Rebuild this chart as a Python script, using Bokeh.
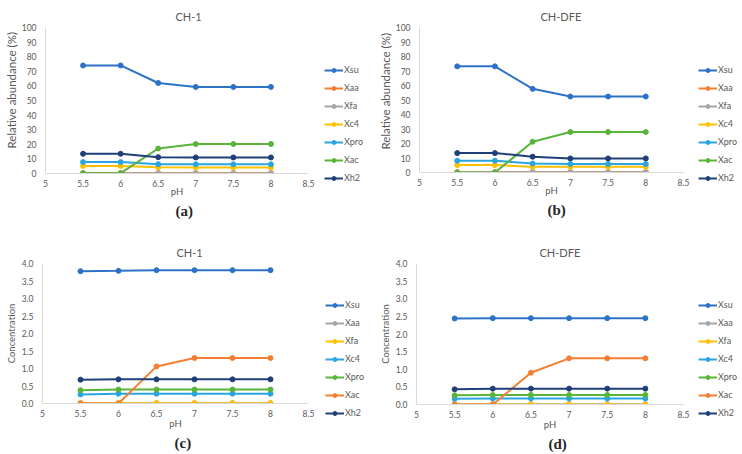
import numpy as np
from bokeh.plotting import figure
from bokeh.layouts import row, column
from bokeh.models import Range1d, FixedTicker, NumeralTickFormatter, Legend, LegendItem, Title
from bokeh.embed import file_html
from bokeh.resources import INLINE

# ---------------- data ----------------
ph = [5.5, 6, 6.5, 7, 7.5, 8]
x_ticks = [5, 5.5, 6, 6.5, 7, 7.5, 8, 8.5]
ticks_pct = [0, 10, 20, 30, 40, 50, 60, 70, 80, 90, 100]
ticks_conc = [0, 0.5, 1.0, 1.5, 2.0, 2.5, 3.0, 3.5, 4.0]

names = ["Xsu", "Xaa", "Xfa", "Xc4", "Xpro", "Xac", "Xh2"]

# (a) CH-1, relative abundance (%)
a_xsu = [74.0, 74.0, 62.0, 59.3, 59.3, 59.3]
a_xaa = [0.3, 0.3, 0.3, 0.3, 0.3, 0.3]
a_xfa = [0.1, 0.1, 0.1, 0.1, 0.1, 0.1]
a_xc4 = [5.2, 5.2, 4.2, 4.1, 4.1, 4.1]
a_xpro = [7.8, 7.8, 6.4, 6.3, 6.3, 6.3]
a_xac = [0.2, 0.2, 17.1, 20.2, 20.2, 20.2]
a_xh2 = [13.5, 13.5, 11.2, 11.0, 11.0, 11.0]

# (b) CH-DFE, relative abundance (%)
b_xsu = [73.2, 73.2, 57.7, 52.4, 52.4, 52.4]
b_xaa = [0.3, 0.3, 0.3, 0.3, 0.3, 0.3]
b_xfa = [0.1, 0.1, 0.1, 0.1, 0.1, 0.1]
b_xc4 = [5.1, 5.1, 3.9, 3.9, 3.9, 3.9]
b_xpro = [8.1, 8.1, 6.2, 5.8, 5.8, 5.8]
b_xac = [0.0, 0.0, 21.2, 27.9, 27.9, 27.9]
b_xh2 = [13.4, 13.4, 10.9, 9.7, 9.7, 9.7]

# (c) CH-1, concentration
c_xsu = [3.78, 3.79, 3.81, 3.81, 3.81, 3.81]
c_xaa = [0.01, 0.01, 0.01, 0.01, 0.01, 0.01]
c_xfa = [0.01, 0.01, 0.01, 0.01, 0.01, 0.01]
c_xc4 = [0.26, 0.28, 0.28, 0.28, 0.28, 0.28]
c_xpro = [0.38, 0.40, 0.40, 0.40, 0.40, 0.40]
c_xac = [0.0, 0.0, 1.06, 1.30, 1.30, 1.30]
c_xh2 = [0.68, 0.69, 0.69, 0.69, 0.69, 0.69]

# (d) CH-DFE, concentration
d_xsu = [2.44, 2.45, 2.45, 2.45, 2.45, 2.45]
d_xaa = [0.01, 0.01, 0.01, 0.01, 0.01, 0.01]
d_xfa = [0.0, 0.0, 0.0, 0.0, 0.0, 0.0]
d_xc4 = [0.16, 0.17, 0.17, 0.17, 0.17, 0.17]
d_xpro = [0.26, 0.27, 0.27, 0.27, 0.27, 0.27]
d_xac = [0.0, 0.0, 0.90, 1.31, 1.31, 1.31]
d_xh2 = [0.43, 0.45, 0.45, 0.45, 0.45, 0.45]

# ---------------- styles ----------------
BLUE = "#2D72C8"
ORANGE = "#F47F32"
GRAY = "#A6A6A6"
GOLD = "#FFC000"
LBLUE = "#2AA5E2"
GREEN = "#59B43A"
NAVY = "#1E3F78"
colors_top = [BLUE, ORANGE, GRAY, GOLD, LBLUE, GREEN, NAVY]
colors_bot = [BLUE, GRAY, GOLD, LBLUE, GREEN, ORANGE, NAVY]

FONT = "Lato"
TXT = "#595959"
AX = "#D9D9D9"
H = 227
CELL = 371
HAS_FA = "frame_align" in figure.properties()


def make_panel(series, colors, ymax, yticks, yfmt, pw, left, fw, top, fh,
               title, title_off, ylabel, ylabel_size, ylabel_off,
               ph_standoff, tag, tag_off, leg_xy):
    p = figure(width=pw, height=H, x_range=Range1d(5, 8.5), y_range=Range1d(0, ymax),
               output_backend="svg", toolbar_location=None,
               min_border=0, min_border_left=left, min_border_right=pw - left - fw,
               min_border_top=top, min_border_bottom=H - top - fh)
    if HAS_FA:
        p.frame_align = False
    p.outline_line_color = None
    p.xgrid.visible = False
    p.ygrid.visible = False

    p.title.text = title
    p.title.align = "left"
    p.title.offset = title_off
    p.title.text_font = FONT
    p.title.text_font_size = "11px"
    p.title.text_font_style = "normal"
    p.title.text_color = TXT

    for ax in (p.xaxis[0], p.yaxis[0]):
        ax.axis_line_color = AX
        ax.axis_line_width = 1
        ax.major_tick_out = 0
        ax.major_tick_in = 0
        ax.minor_tick_out = 0
        ax.minor_tick_in = 0
        ax.major_label_text_font = FONT
        ax.major_label_text_font_size = "8.5px"
        ax.major_label_text_color = TXT
        ax.axis_label_text_font = FONT
        ax.axis_label_text_font_style = "normal"
        ax.axis_label_text_color = TXT
    p.xaxis.ticker = FixedTicker(ticks=x_ticks)
    p.xaxis.formatter = NumeralTickFormatter(format="0.[0]")
    p.xaxis.major_label_standoff = 6
    p.xaxis.axis_label = "pH"
    p.xaxis.axis_label_standoff = ph_standoff
    p.xaxis.axis_label_text_font_size = "9.5px"
    p.yaxis.ticker = FixedTicker(ticks=yticks)
    p.yaxis.formatter = NumeralTickFormatter(format=yfmt)
    p.yaxis.major_label_standoff = 9

    if ylabel_off is None:
        p.yaxis.axis_label = ylabel
        p.yaxis.axis_label_standoff = 2
        p.yaxis.axis_label_text_font_size = ylabel_size
    else:
        p.add_layout(Title(text=ylabel, align="left", offset=ylabel_off, text_font=FONT,
                           text_font_size=ylabel_size, text_font_style="normal",
                           text_color=TXT, standoff=2), "left")
    p.add_layout(Title(text=tag, align="left", offset=tag_off, text_font="Liberation Serif",
                       text_font_size="15px", text_font_style="bold",
                       text_color="#262626", standoff=2), "below")

    for (name, vals), col in zip(series, colors):
        p.line(ph, vals, line_color=col, line_width=2)
        p.scatter(ph, vals, size=5, fill_color=col, line_color=col)

    # legend lives in its own narrow figure to the right of the plot
    lf = figure(width=CELL - pw, height=H, x_range=Range1d(0, 1), y_range=Range1d(0, 1),
                x_axis_type=None, y_axis_type=None, output_backend="svg",
                toolbar_location=None, min_border=0)
    if HAS_FA:
        lf.frame_align = False
    lf.outline_line_color = None
    nan = np.array([np.nan])
    items = []
    for (name, vals), col in zip(series, colors):
        r1 = lf.line(x=nan, y=nan, line_color=col, line_width=2)
        r2 = lf.scatter(x=nan, y=nan, size=5, fill_color=col, line_color=col)
        items.append(LegendItem(label=name, renderers=[r1, r2]))
    leg = Legend(items=items, location=leg_xy, padding=0, margin=0,
                 border_line_color=None, background_fill_alpha=0,
                 glyph_width=19, glyph_height=10, label_height=15,
                 label_standoff=1, spacing=3,
                 label_text_font=FONT, label_text_font_size="9px",
                 label_text_color=TXT)
    lf.add_layout(leg)
    return row(p, lf, spacing=0)


sa = list(zip(names, [a_xsu, a_xaa, a_xfa, a_xc4, a_xpro, a_xac, a_xh2]))
sb = list(zip(names, [b_xsu, b_xaa, b_xfa, b_xc4, b_xpro, b_xac, b_xh2]))
sc = list(zip(names, [c_xsu, c_xaa, c_xfa, c_xc4, c_xpro, c_xac, c_xh2]))
sd = list(zip(names, [d_xsu, d_xaa, d_xfa, d_xc4, d_xpro, d_xac, d_xh2]))

qa = make_panel(sa, colors_top, 100, ticks_pct, "0", 320, 45, 263, 27, 146,
                "CH-1", 130, "Relative abundance (%)", "11.5px", 25,
                -4, "(a)", 130, (4, 42))
qb = make_panel(sb, colors_top, 100, ticks_pct, "0", 324, 48, 264, 27, 145,
                "CH-DFE", 121, "Relative abundance (%)", "11.5px", 23,
                -4, "(b)", 128, (3, 42))
qc = make_panel(sc, colors_bot, 4, ticks_conc, "0.0", 320, 42, 266, 36, 140,
                "CH-1", 134, "Concentration", "9.5px", None,
                -2, "(c)", 132, (5, 34))
qd = make_panel(sd, colors_bot, 4, ticks_conc, "0.0", 324, 45, 267, 36, 141,
                "CH-DFE", 123, "Concentration", "9.5px", None,
                -2, "(d)", 132, (3, 34))

page = column(row(qa, qb, spacing=0), row(qc, qd, spacing=0), spacing=0)

open("out.html", "w").write(file_html(page, INLINE))
